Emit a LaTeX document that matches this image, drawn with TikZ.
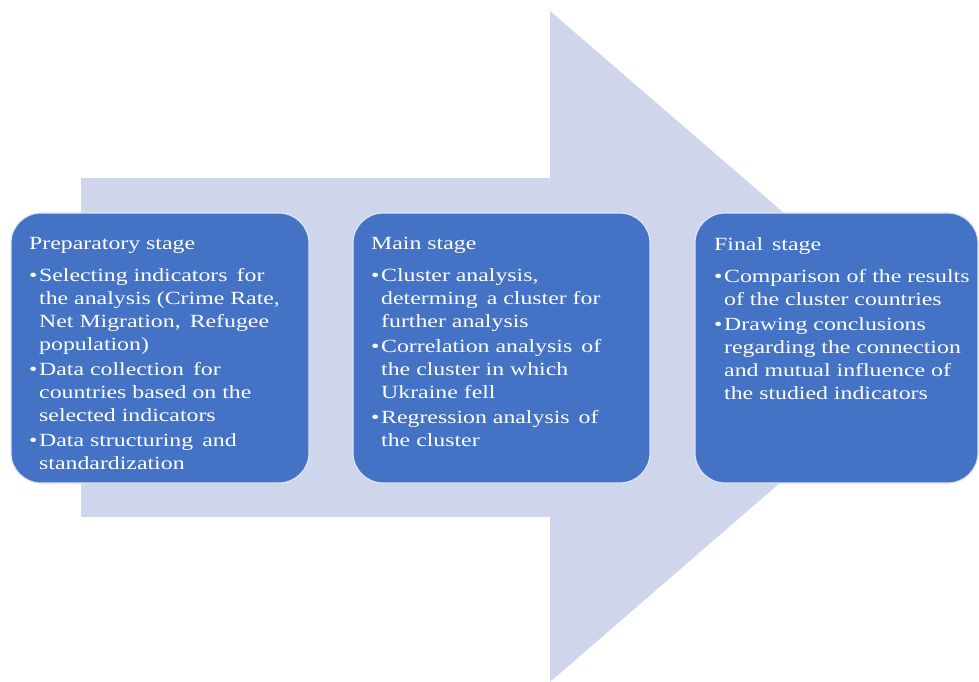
\documentclass[tikz,border=0pt]{standalone}
\usepackage{fontspec}
\setmainfont[FakeStretch=1.28]{Liberation Serif}
\definecolor{arrowfill}{HTML}{CFD5EA}
\definecolor{boxfill}{HTML}{4472C4}
\definecolor{boxline}{HTML}{DCE6F2}
\newcommand{\bl}[1]{\makebox[10pt][l]{\textbullet}#1}
\newcommand{\cl}[1]{\hspace*{10pt}#1}
\begin{document}
\begin{tikzpicture}[x=1pt,y=-1pt,
  stagebox/.style={fill=boxfill,draw=boxline,line width=1.2pt,rounded corners=30pt},
  stagetext/.style={anchor=north west,align=left,text=white,inner sep=0pt,
    font=\fontsize{18.6}{23}\selectfont}]
\useasboundingbox (0,0) rectangle (979,682);
% big arrow
\fill[arrowfill] (81,178) -- (550,178) -- (550,11) -- (938,346) -- (550,682) -- (550,517) -- (81,517) -- cycle;
% boxes
\draw[stagebox] (11,213) rectangle (309,483);
\draw[stagebox] (353,213) rectangle (650,483);
\draw[stagebox] (695,213) rectangle (978,483);
% texts
\node[stagetext] (t1) at (29,237) {Preparatory stage\\[9pt]
\bl{Selecting indicators\, for}\\
\cl{the analysis (Crime Rate,}\\
\cl{Net Migration,\, Refugee}\\
\cl{population)}\\[2pt]
\bl{Data collection\, for}\\
\cl{countries based on the}\\
\cl{selected indicators}\\[2pt]
\bl{Data structuring\, and}\\
\cl{standardization}};
\node[stagetext] (t2) at (371,237) {Main stage\\[9pt]
\bl{Cluster analysis,}\\
\cl{determing\, a cluster for}\\
\cl{further analysis}\\[2pt]
\bl{Correlation analysis\, of}\\
\cl{the cluster in which}\\
\cl{Ukraine fell}\\[2pt]
\bl{Regression analysis\, of}\\
\cl{the cluster}};
\node[stagetext] (t3) at (714,237) {Final\, stage\\[9pt]
\bl{Comparison of the results}\\
\cl{of the cluster countries}\\[2pt]
\bl{Drawing conclusions}\\
\cl{regarding the connection}\\
\cl{and mutual influence of}\\
\cl{the studied indicators}};
\end{tikzpicture}
\end{document}
